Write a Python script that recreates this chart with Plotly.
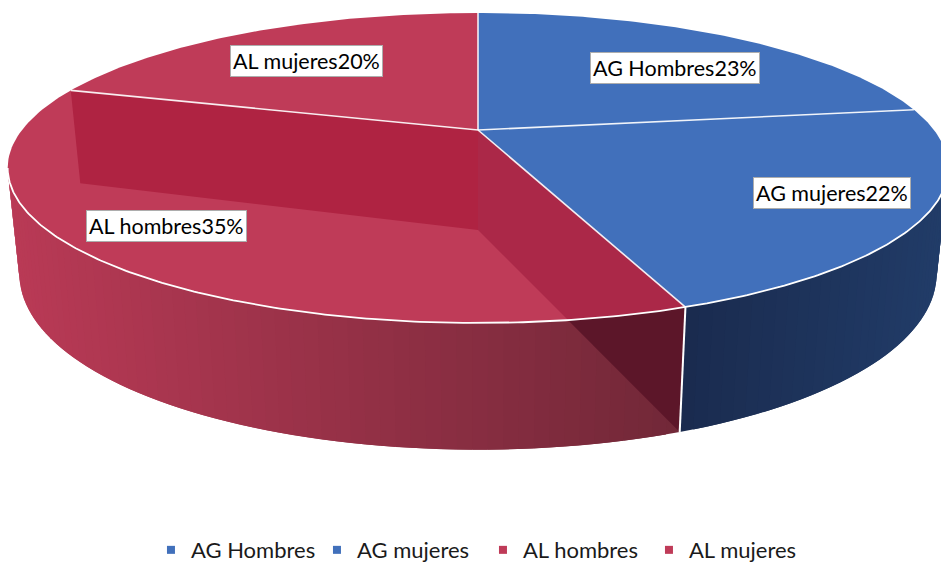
import numpy as np
import plotly.graph_objects as go

# ---- data (percent)
categories = ["AG Hombres", "AG mujeres", "AL hombres", "AL mujeres"]
values = [22.7, 21.6, 35.4, 20.3]
top_colors = ["#4170BB", "#4170BB", "#BF3B58", "#BF3B58"]
label_centres = [(675, 68), (832, 193), (166, 226), (306, 61)]

# ---- projection of the tilted disc (pixels)
TOP = dict(a=456.0, b=145.7, k=0.245, kx=0.245, y0=130.0)
BOT = dict(a=445.0, b=171.0, k=0.2216, kx=0.242, y0=230.0)
CX = 478.0


def project(theta, disc):
    u, v = np.sin(theta), np.cos(theta)
    return CX + disc["a"] * u / (1 + disc["kx"] * v), disc["y0"] - disc["b"] * v / (1 + disc["k"] * v)


def arc(t0, t1, disc, n=120):
    return project(np.linspace(t0, t1, n), disc)


def mix(c0, c1, t):
    t = float(np.clip(t, 0, 1))
    return "rgb(%d,%d,%d)" % tuple(round(p + (q - p) * t) for p, q in zip(c0, c1))


edges = 2 * np.pi * np.cumsum([0] + values) / sum(values)
fig = go.Figure()


def poly(x, y, fill, line=None, width=0.0):
    fig.add_trace(go.Scatter(
        x=list(x), y=list(y), mode="lines", fill="toself", fillcolor=fill,
        line=dict(color=line or fill, width=width), hoverinfo="skip",
        showlegend=False))


# outer walls, shaded by horizontal position; each strip overlaps the next
def wall(t0, t1, c0, c1, x0, x1, step=np.radians(1.5)):
    n = max(2, int(abs(t1 - t0) / step) + 1)
    ts = np.linspace(t0, t1, n)
    for i in range(n - 1):
        a, b = ts[i], ts[min(i + 2, n - 1)]
        xt, yt = arc(a, b, TOP, 4)
        xb, yb = arc(b, a, BOT, 4)
        col = mix(c0, c1, ((xt[0] + xb[-1]) / 2 - x0) / (x1 - x0))
        poly(np.r_[xt, xb, xt[0]], np.r_[yt, yb, yt[0]], col)


silhouette_left = 2 * np.pi - np.arccos(-TOP["k"])
silhouette_right = np.arccos(-TOP["k"]) - 0.05
wall(edges[2], silhouette_left, (114, 40, 56), (186, 58, 86), 680, 10)
wall(edges[2], silhouette_right, (26, 43, 79), (33, 60, 104), 680, 940)

# inner cut face seen through the wall
apex_t = (CX, TOP["y0"])
apex_b = (CX, BOT["y0"])
corner_t = project(edges[2], TOP)
corner_b = project(edges[2], BOT)
poly([apex_t[0], corner_t[0], corner_b[0], apex_b[0]],
     [apex_t[1], corner_t[1], corner_b[1], apex_b[1]], "#5C1629")

# top faces
for i in range(4):
    x, y = arc(edges[i], edges[i + 1], TOP)
    poly(np.r_[CX, x, CX], np.r_[TOP["y0"], y, TOP["y0"]], top_colors[i])

# inner cut faces seen through the top of the red slice
rx, ry = arc(edges[2], edges[2] + 1.0, TOP, 400)
side = (corner_b[0] - apex_b[0]) * (ry - apex_b[1]) - (corner_b[1] - apex_b[1]) * (rx - apex_b[0])
cut = int(np.argmax(side * side[5] < 0)) or len(rx)
poly(np.r_[apex_t[0], rx[:cut], apex_b[0]], np.r_[apex_t[1], ry[:cut], apex_b[1]], "#AB2848")
left_t = project(edges[3], TOP)
left_b = project(edges[3], BOT)
poly([apex_t[0], left_t[0], left_b[0], apex_b[0]],
     [apex_t[1], left_t[1], left_b[1], apex_b[1]], "#AF2342")

# white outlines: radial edges, visible rim, front corner
for i in range(4):
    ex, ey = project(edges[i], TOP)
    fig.add_trace(go.Scatter(x=[CX, ex], y=[TOP["y0"], ey], mode="lines",
                             line=dict(color="rgba(255,255,255,0.9)", width=1.6),
                             hoverinfo="skip", showlegend=False))
fx, fy = arc(silhouette_right, silhouette_left, TOP, 300)
fig.add_trace(go.Scatter(x=fx, y=fy, mode="lines", line=dict(color="white", width=1.8),
                         hoverinfo="skip", showlegend=False))
fig.add_trace(go.Scatter(x=[corner_t[0], corner_b[0]], y=[corner_t[1], corner_b[1]], mode="lines",
                         line=dict(color="white", width=2), hoverinfo="skip", showlegend=False))

# legend entries
for name, col in zip(categories, top_colors):
    fig.add_trace(go.Scatter(x=[None], y=[None], mode="markers", name=name,
                             marker=dict(symbol="square", size=8, color=col)))

# data labels
for name, val, (lx, ly) in zip(categories, values, label_centres):
    fig.add_annotation(x=lx, y=ly, xref="x", yref="y", showarrow=False,
                       text=f"{name}{val:.0f}%", font=dict(family="Lato", size=21.5, color="black"),
                       bgcolor="white", bordercolor="#ADADAD", borderwidth=1, borderpad=2)

fig.update_layout(
    width=941, height=563, margin=dict(l=0, r=0, t=0, b=0, autoexpand=False),
    paper_bgcolor="white", plot_bgcolor="white",
    xaxis=dict(range=[0, 941], visible=False, fixedrange=True),
    yaxis=dict(range=[563, 0], visible=False, fixedrange=True),
    legend=dict(orientation="h", x=0.526, xanchor="center", y=0.023, yanchor="middle",
                indentation=-12, entrywidth=133, entrywidthmode="pixels",
                font=dict(family="Lato", size=22, color="#1a1a1a"), bgcolor="rgba(0,0,0,0)"),
)
fig.write_html("out.html", config=dict(displayModeBar=False),
               post_script="document.body.style.margin='0';document.body.style.overflow='hidden';")
